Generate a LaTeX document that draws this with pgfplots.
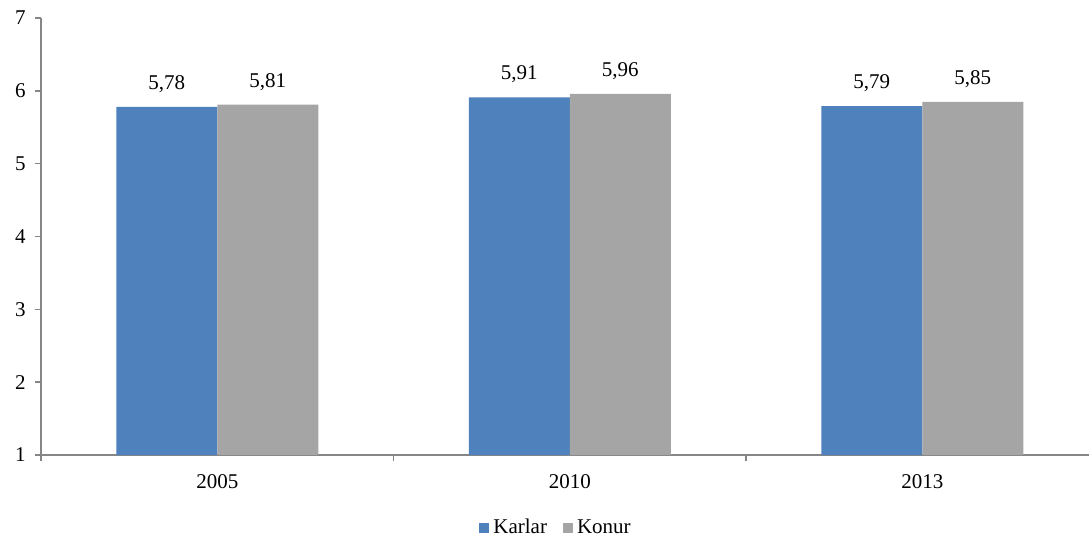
\documentclass[border=0pt]{standalone}
\usepackage{pgfplots}
\pgfplotsset{compat=1.18}
\usepackage{fontspec}
\setmainfont{Liberation Serif}
\definecolor{cK}{HTML}{4F81BD}
\definecolor{cG}{HTML}{A5A5A5}
\definecolor{axc}{HTML}{868686}
\begin{document}
\fontsize{10.5bp}{12bp}\selectfont
\begin{tikzpicture}[x=1bp,y=1bp]
\useasboundingbox (0,0) rectangle (544.5,268.5);
\begin{axis}[
  at={(20.5bp,41bp)}, anchor=south west,
  scale only axis, width=524bp, height=218.5bp,
  xmin=-0.5, xmax=2.473, ymin=1, ymax=7,
  ybar=0pt, bar width=50.5bp,
  axis x line=bottom, axis y line=left,
  axis line style={-, draw=axc, line width=0.8bp},
  xtick={0,1,2}, xticklabels={2005,2010,2013},
  major x tick style={draw=none},
  minor xtick={-0.5,0.5,1.5,2.5},
  minor x tick style={draw=axc, line width=0.8bp},
  minor tick length=3bp,
  ytick={1,2,3,4,5,6,7},
  y tick style={draw=axc, line width=0.8bp},
  major tick length=3bp,
  tick align=outside,
  xticklabel style={yshift=-3bp},
  yticklabel style={xshift=-1bp},
  /pgf/number format/assume math mode=true,
  nodes near coords,
  nodes near coords style={/pgf/number format/.cd, use comma, fixed, precision=2, fixed zerofill, /tikz/.cd, yshift=3.5bp},
  legend style={at={(0.4924,-0.167)}, anchor=center, draw=none, legend columns=2,
    /tikz/every even column/.append style={column sep=6bp}},
  legend image code/.code={\fill[#1] (0.5bp,-2.5bp) rectangle (5.5bp,2.5bp);},
  clip=true,
]
\addplot[fill=cK, draw=none] coordinates {(0,5.78) (1,5.91) (2,5.79)};
\addplot[fill=cG, draw=none] coordinates {(0,5.81) (1,5.96) (2,5.85)};
\legend{Karlar,Konur}
\end{axis}
\end{tikzpicture}
\end{document}
